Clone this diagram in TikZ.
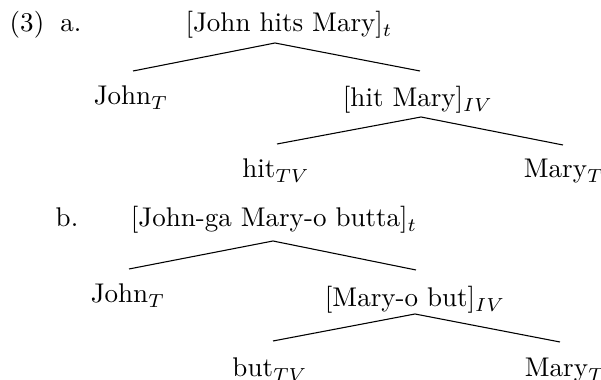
\documentclass[tikz,border=0pt]{standalone}
\usetikzlibrary{positioning}

\begin{document}
\begin{tikzpicture}
[x=0.37pt,y=-0.37pt,
    cat/.style={inner sep=0pt,anchor=base},
    branch/.style={thin}]
\useasboundingbox (0,0) rectangle (601,380);
%%%%% (3a)
\node (ex) [cat] at (27,32) {(3)};
\node (la) [cat] at (71,32) {a.};
\node (sa) [cat] at (289,32) {[John hits Mary]$_t$};
\node (ja) [cat] at (131,105) {John$_T$};
\node (va) [cat] at (418,107) {[hit Mary]$_{IV}$};
\node (ha) [cat] at (276,178) {hit$_{TV}$};
\node (ma) [cat] at (564,178) {Mary$_T$};
%% branch points
\coordinate (sa-top) at (275,43);
\coordinate (sa-l) at (133,71);
\coordinate (sa-r) at (420,71);
\coordinate (va-top) at (421,117);
\coordinate (va-l) at (277,144);
\coordinate (va-r) at (563,145);
\draw[branch] (sa-l) -- (sa-top) -- (sa-r);
\draw[branch] (va-l) -- (va-top) -- (va-r);
%%%%% (3b)
\node (lb) [cat] at (67,227) {b.};
\node (sb) [cat] at (274,227) {[John-ga Mary-o butta]$_t$};
\node (jb) [cat] at (128,303) {John$_T$};
\node (vb) [cat] at (415,307) {[Mary-o but]$_{IV}$};
\node (hb) [cat] at (270,377) {but$_{TV}$};
\node (mb) [cat] at (565,377) {Mary$_T$};
%% branch points
\coordinate (sb-top) at (273,241);
\coordinate (sb-l) at (129,269);
\coordinate (sb-r) at (416,270);
\coordinate (vb-top) at (415,314);
\coordinate (vb-l) at (273,341);
\coordinate (vb-r) at (560,342);
\draw[branch] (sb-l) -- (sb-top) -- (sb-r);
\draw[branch] (vb-l) -- (vb-top) -- (vb-r);
\end{tikzpicture}
\end{document}
